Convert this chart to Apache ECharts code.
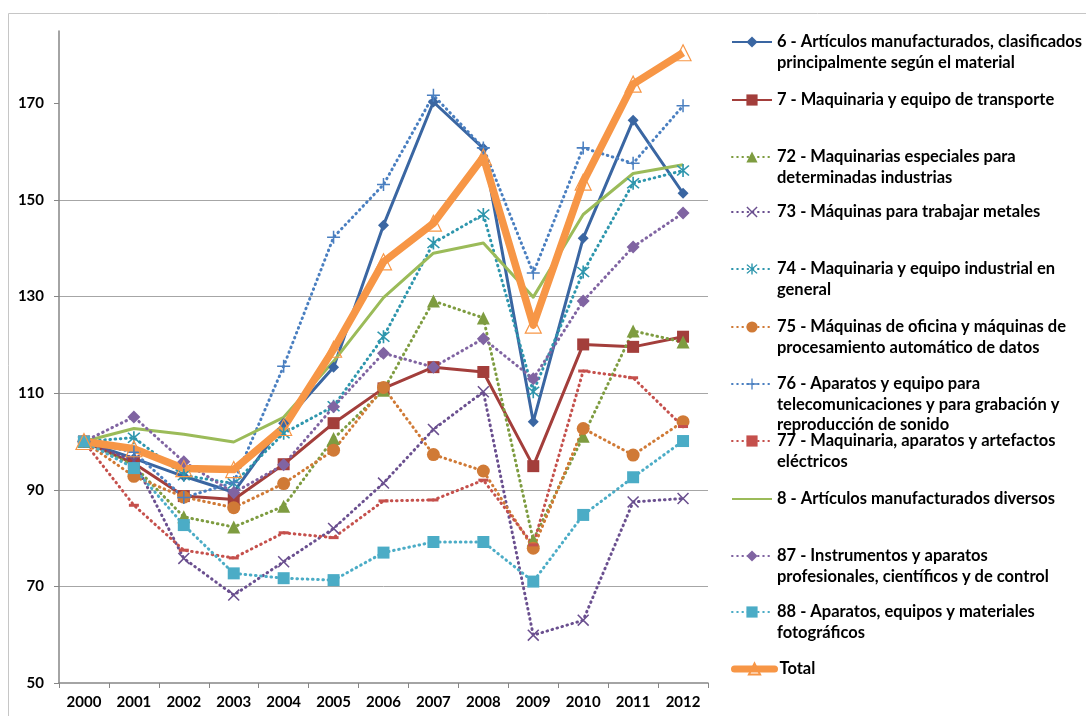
<!DOCTYPE html>
<html>
<head>
<meta charset="utf-8">
<script src="https://cdn.jsdelivr.net/npm/echarts@6/dist/echarts.min.js"></script>
<style>html,body{margin:0;padding:0;background:#fff;}#c{width:1086px;height:716px;}</style>
</head>
<body>
<div id="c"></div>
<script>
var years = ['2000','2001','2002','2003','2004','2005','2006','2007','2008','2009','2010','2011','2012'];
var yTicks = [50, 70, 90, 110, 130, 150, 170];

var s6   = [100, 96.5, 92.8, 89.5, 103.8, 115.4, 144.8, 170.3, 160.7, 104.1, 142.1, 166.5, 151.4];
var s7   = [100, 95.5, 88.7, 88.0, 95.3, 103.8, 111.0, 115.4, 114.4, 94.9, 120.1, 119.6, 121.7];
var s72  = [100, 95.0, 84.4, 82.3, 86.6, 100.6, 110.6, 129.1, 125.6, 79.6, 101.1, 122.9, 120.6];
var s73  = [100, 96.0, 75.8, 68.2, 75.1, 82.0, 91.4, 102.5, 110.3, 59.9, 63.0, 87.5, 88.2];
var s74  = [100, 100.8, 93.0, 91.3, 101.7, 107.3, 121.7, 141.1, 147.0, 110.3, 135.1, 153.5, 156.1];
var s75  = [100, 92.8, 88.5, 86.3, 91.3, 98.2, 111.2, 97.3, 93.9, 77.9, 102.7, 97.2, 104.1];
var s76  = [100, 97.8, 88.4, 91.5, 115.6, 142.3, 153.2, 171.7, 160.8, 134.9, 160.8, 157.6, 169.5];
var s77  = [100, 86.8, 77.5, 75.9, 81.1, 80.1, 87.7, 87.9, 92.0, 78.6, 114.6, 113.2, 103.1];
var s8   = [100, 102.7, 101.5, 99.9, 105.0, 116.6, 129.8, 139.0, 141.1, 129.9, 147.0, 155.5, 157.3];
var s87  = [100, 105.1, 95.8, 89.4, 95.2, 107.2, 118.3, 115.4, 121.3, 113.0, 129.1, 140.3, 147.3];
var s88  = [100, 94.5, 82.7, 72.7, 71.7, 71.3, 77.0, 79.2, 79.2, 71.0, 84.8, 92.6, 100.1];
var sTot = [100, 98.5, 94.4, 94.2, 102.9, 119.1, 137.2, 145.2, 158.9, 124.1, 153.7, 174.0, 180.5];

var names = [
  '6 - Artículos manufacturados, clasificados\nprincipalmente según el material',
  '7 - Maquinaria y equipo de transporte',
  '72 - Maquinarias especiales para\ndeterminadas industrias',
  '73 - Máquinas para trabajar metales',
  '74 - Maquinaria y equipo industrial en\ngeneral',
  '75 - Máquinas de oficina y máquinas de\nprocesamiento automático de datos',
  '76 - Aparatos y equipo para\ntelecomunicaciones y para grabación y\nreproducción de sonido',
  '77 - Maquinaria, aparatos y artefactos\neléctricos',
  '8 - Artículos manufacturados diversos',
  '87 - Instrumentos y aparatos\nprofesionales, científicos y de control',
  '88 - Aparatos, equipos y materiales\nfotográficos',
  'Total'
];
var values = [s6, s7, s72, s73, s74, s75, s76, s77, s8, s87, s88, sTot];
var colors = ['#3a66a2','#a33e3b','#7e9c40','#6a4f8f','#2e96ad','#d07a36','#4a7fc0','#c5504c','#9bbb59','#8064a2','#4bacc6','#f79646'];
var legendFirstLineY = [42, 100, 157, 212, 269, 327, 384, 441, 499, 556, 612, 669];

var PLUS = 'path://M-0.7,-6 L0.7,-6 L0.7,6 L-0.7,6 Z M-6,-0.7 L6,-0.7 L6,0.7 L-6,0.7 Z';
var XS = 'path://M-5.5,-4.5 L-4.5,-5.5 L5.5,4.5 L4.5,5.5 Z M4.5,-5.5 L5.5,-4.5 L-4.5,5.5 L-5.5,4.5 Z';
var AST = 'path://M-5.5,-4.5 L-4.5,-5.5 L5.5,4.5 L4.5,5.5 Z M4.5,-5.5 L5.5,-4.5 L-4.5,5.5 L-5.5,4.5 Z M-0.7,-6.5 L0.7,-6.5 L0.7,6.5 L-0.7,6.5 Z';

var dotted = [0.6, 4.6];
var styles = [
  {symbol:'diamond', size:11, solid:true, width:3},
  {symbol:'rect', size:12, solid:true, width:3},
  {symbol:'triangle', size:13, solid:false, width:3},
  {symbol:XS, size:12, solid:false, width:3},
  {symbol:AST, size:13, solid:false, width:3},
  {symbol:'circle', size:13, solid:false, width:3},
  {symbol:PLUS, size:13, solid:false, width:3},
  {symbol:'rect', size:[10,3], solid:false, width:3},
  {symbol:'none', size:0, solid:true, width:3, noMarker:true},
  {symbol:'diamond', size:13, solid:false, width:3},
  {symbol:'rect', size:12, solid:false, width:3},
  {symbol:'triangle', size:16, solid:true, width:7.5, hollow:true}
];

var LH = 20.5;
var FONT = 'Lato';
var series = [];
var legends = [];
for (var i = 0; i < names.length; i++) {
  var st = styles[i];
  series.push({
    name: names[i],
    type: 'line',
    data: values[i],
    symbol: st.symbol,
    symbolSize: st.size,
    showSymbol: !st.noMarker,
    smooth: false,
    animation: false,
    lineStyle: {color: colors[i], width: st.width, type: st.solid ? 'solid' : dotted, cap: st.solid ? 'butt' : 'round', join: 'round'},
    itemStyle: st.hollow ? {color: 'rgba(255,255,255,0)', borderColor: colors[i], borderWidth: 1.2} : {color: colors[i], borderWidth: 0}
  });
  var n = names[i].split('\n').length;
  var lg = {
    data: [names[i]],
    orient: 'vertical',
    left: 731,
    top: legendFirstLineY[i] - (n - 0.5) * LH,
    padding: 0,
    itemWidth: 40,
    itemHeight: 14,
    selectedMode: false,
    formatter: (function (k) { return function (nm) { return new Array(k).join('\n') + nm; }; })(n),
    textStyle: {fontFamily: FONT, fontWeight: 'bold', fontSize: 16.5, color: '#000', lineHeight: LH}
  };
  if (st.noMarker) { lg.itemStyle = {opacity: 0}; }
  if (st.hollow) { lg.lineStyle = {width: 7, cap: 'round'}; }
  legends.push(lg);
}

var chart = echarts.init(document.getElementById('c'), null, {renderer: 'canvas'});
chart.setOption({
  backgroundColor: '#ffffff',
  animation: false,
  graphic: [{type: 'rect', shape: {x: 8.5, y: 13.5, width: 1200, height: 800}, style: {fill: 'none', stroke: '#c6c6c6', lineWidth: 1}, silent: true, z: -10}],
  grid: {left: 59, right: 378, top: 31, bottom: 33},
  legend: legends,
  xAxis: {
    type: 'category',
    data: years,
    boundaryGap: true,
    axisLine: {lineStyle: {color: '#868686', width: 1.5}},
    axisTick: {show: true, length: 5, alignWithLabel: false, lineStyle: {color: '#868686', width: 1}},
    axisLabel: {fontFamily: FONT, fontWeight: 'bold', fontSize: 15, color: '#000', margin: 12}
  },
  yAxis: {
    type: 'value',
    min: 50,
    max: 185,
    interval: 20,
    axisLine: {show: true, lineStyle: {color: '#868686', width: 1.5}},
    axisTick: {show: true, length: 5, customValues: yTicks, lineStyle: {color: '#868686', width: 1}},
    axisLabel: {customValues: yTicks, fontFamily: FONT, fontWeight: 'bold', fontSize: 15, color: '#000', margin: 15,
      formatter: function (v) { return ((v - 50) % 20 === 0) ? String(v) : ''; }},
    splitLine: {show: true, showMinLine: false, showMaxLine: false, lineStyle: {color: '#a6a6a6', width: 1}}
  },
  series: series
});
</script>
</body>
</html>
